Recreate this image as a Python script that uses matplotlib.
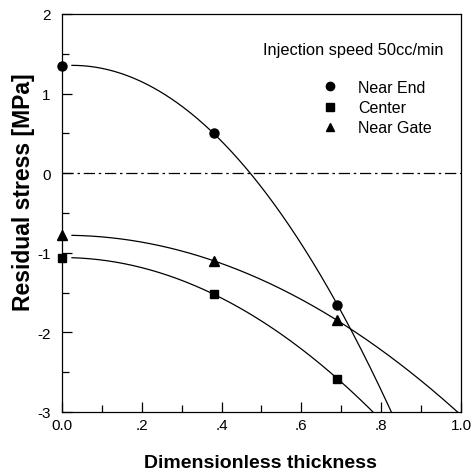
import numpy as np
import matplotlib
matplotlib.use("Agg")
import matplotlib.pyplot as plt
from matplotlib.ticker import MultipleLocator, FixedLocator, FixedFormatter
from matplotlib.lines import Line2D

plt.rcParams['font.family'] = ['Liberation Sans', 'DejaVu Sans']

# Measured residual stress through the dimensionless thickness
thickness = [0.0, 0.38, 0.69]
near_end = [1.35, 0.50, -1.65]
center = [-1.06, -1.52, -2.58]
near_gate = [-0.78, -1.10, -1.85]

series = [
    ("Near End", near_end, "o", 6.5),
    ("Center", center, "s", 5.8),
    ("Near Gate", near_gate, "^", 6.5),
]

x_ticks = [0.0, 0.2, 0.4, 0.6, 0.8, 1.0]
x_tick_labels = ["0.0", ".2", ".4", ".6", ".8", "1.0"]
y_ticks = [-3, -2, -1, 0, 1, 2]
y_tick_labels = ["-3", "-2", "-1", "0", "1", "2"]

fig = plt.figure(figsize=(4.71, 4.77), dpi=100)
ax = fig.add_axes([0.1316, 0.1342, 0.8472, 0.8344])

# quadratic fit through each profile
xs = np.linspace(0.025, 1.0, 400)
for name, vals, mk, ms in series:
    coef = np.polyfit(thickness, vals, 2)
    ax.plot(xs, np.polyval(coef, xs), color="black", lw=0.9)
    ax.plot(thickness, vals, linestyle="none", marker=mk, ms=ms,
            color="black", clip_on=False, zorder=5)

ax.axhline(0, color="black", lw=0.9, dashes=(9, 3, 2, 3))

ax.set_xlim(0, 1.0)
ax.set_ylim(-3, 2)
ax.xaxis.set_major_locator(FixedLocator(x_ticks))
ax.xaxis.set_major_formatter(FixedFormatter(x_tick_labels))
ax.xaxis.set_minor_locator(MultipleLocator(0.1))
ax.yaxis.set_major_locator(FixedLocator(y_ticks))
ax.yaxis.set_major_formatter(FixedFormatter(y_tick_labels))
ax.yaxis.set_minor_locator(MultipleLocator(0.5))
ax.tick_params(which="both", direction="in", top=False, right=False,
               width=0.9, labelsize=11)
ax.tick_params(axis="y", pad=8)
ax.tick_params(axis="x", pad=4)
ax.tick_params(which="major", length=7)
ax.tick_params(which="minor", length=5)
for s in ax.spines.values():
    s.set_linewidth(0.9)

ax.set_xlabel("Dimensionless thickness", fontsize=14, fontweight="bold")
ax.xaxis.set_label_coords(0.4975, -0.1055)
ax.set_ylabel("Residual stress [MPa]", fontsize=16.5, fontweight="bold")
ax.yaxis.set_label_coords(-0.068, 0.556)

ax.text(0.957, 0.912, "Injection speed 50cc/min", transform=ax.transAxes,
        ha="right", va="center", fontsize=11.8)

handles = [Line2D([], [], linestyle="none", marker=mk, ms=ms - 0.5, color="black")
           for _, _, mk, ms in series]
ax.legend(handles, [s[0] for s in series], loc="upper left",
          bbox_to_anchor=(0.652, 0.834), frameon=False, fontsize=11.5,
          handletextpad=1.25, labelspacing=0.32, handlelength=1.0,
          borderpad=0, borderaxespad=0)

fig.savefig("out.png", dpi=100)
